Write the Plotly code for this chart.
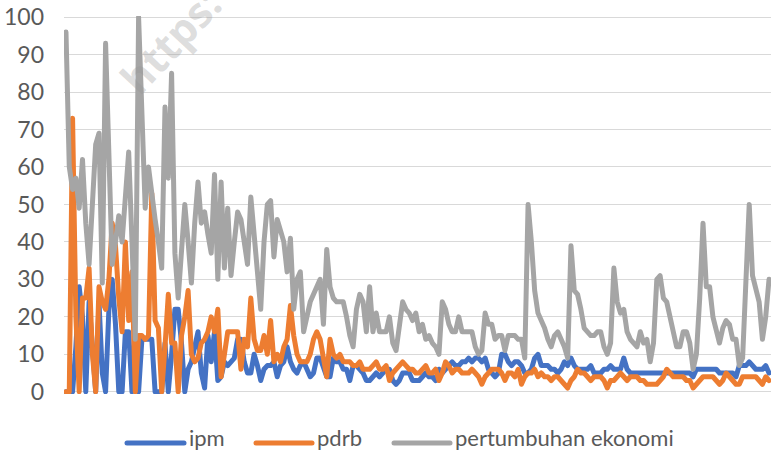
import plotly.graph_objects as go

# ---- data ----
periode = list(range(214))

ipm = [0, 0, 0, 12, 28, 20, 0, 24, 10, 0,
       24, 5, 0, 22, 30, 18, 0, 0, 16, 16,
       0, 14, 0, 14, 14, 14, 14, 0, 0, 0,
       13, 0, 10, 22, 22, 13, 0, 6, 8, 12,
       16, 5, 1, 15, 8, 16, 3, 4, 8, 7,
       8, 9, 14, 14, 8, 5, 5, 10, 7, 3,
       6, 7, 7, 8, 4, 7, 8, 12, 8, 6,
       5, 7, 8, 6, 4, 5, 9, 9, 6, 4,
       4, 9, 8, 8, 6, 6, 3, 7, 7, 6,
       5, 3, 3, 4, 5, 4, 5, 6, 6, 3,
       2, 3, 5, 5, 5, 3, 3, 3, 4, 5,
       4, 4, 3, 6, 5, 6, 7, 8, 7, 7,
       8, 8, 9, 8, 9, 9, 8, 9, 6, 5,
       4, 5, 10, 10, 8, 7, 8, 8, 7, 5,
       5, 6, 9, 10, 7, 7, 7, 6, 6, 5,
       6, 8, 7, 9, 7, 6, 6, 6, 6, 7,
       5, 5, 5, 6, 6, 7, 6, 6, 6, 9,
       6, 5, 5, 5, 5, 5, 5, 5, 5, 5,
       5, 5, 5, 5, 5, 5, 5, 5, 5, 5,
       4, 6, 6, 6, 6, 6, 6, 6, 5, 5,
       5, 5, 5, 4, 7, 7, 7, 8, 7, 6,
       6, 6, 7, 5]

pdrb = [0, 0, 73, 20, 0, 25, 25, 33, 10, 0,
        28, 24, 22, 30, 45, 39, 25, 16, 40, 19,
        32, 0, 15, 15, 14, 15, 53, 19, 17, 0,
        12, 26, 13, 13, 0, 15, 20, 27, 10, 8,
        9, 13, 14, 16, 20, 16, 22, 4, 10, 16,
        16, 16, 16, 6, 14, 12, 25, 14, 11, 11,
        15, 10, 19, 8, 10, 8, 12, 14, 23, 15,
        10, 8, 8, 8, 10, 14, 16, 14, 9, 4,
        14, 10, 9, 10, 8, 8, 8, 7, 7, 8,
        6, 6, 6, 7, 8, 6, 6, 7, 3, 5,
        6, 7, 8, 7, 6, 6, 5, 5, 6, 7,
        5, 5, 6, 3, 5, 8, 7, 5, 6, 6,
        5, 5, 5, 6, 5, 4, 2, 4, 5, 6,
        6, 6, 5, 3, 5, 5, 4, 6, 2, 4,
        5, 5, 6, 4, 5, 4, 4, 3, 4, 4,
        3, 2, 1, 3, 4, 6, 5, 5, 4, 3,
        4, 4, 4, 3, 1, 3, 3, 4, 5, 4,
        3, 4, 4, 4, 3, 3, 2, 2, 2, 2,
        3, 4, 6, 5, 4, 4, 4, 4, 3, 3,
        1, 2, 3, 4, 4, 4, 4, 3, 2, 3,
        5, 4, 3, 2, 2, 4, 4, 4, 4, 4,
        3, 2, 4, 3]

pertumbuhan_ekonomi = [96, 60, 54, 57, 49, 62, 45, 34, 50, 66,
                       69, 29, 93, 60, 34, 40, 47, 40, 52, 64,
                       40, 14, 100, 70, 49, 60, 52, 46, 40, 33,
                       76, 57, 85, 37, 25, 38, 50, 40, 29, 45,
                       56, 45, 48, 42, 37, 58, 30, 56, 33, 49,
                       31, 40, 48, 46, 40, 34, 52, 41, 30, 22,
                       40, 50, 51, 36, 46, 43, 40, 32, 41, 22,
                       30, 32, 16, 20, 24, 26, 28, 30, 18, 38,
                       28, 25, 24, 24, 24, 20, 15, 12, 22, 26,
                       24, 16, 28, 16, 21, 16, 16, 16, 20, 13,
                       11, 18, 24, 22, 21, 19, 21, 16, 18, 14,
                       15, 13, 12, 10, 24, 22, 18, 16, 16, 20,
                       16, 16, 16, 16, 12, 10, 11, 21, 18, 18,
                       14, 15, 15, 11, 15, 15, 15, 14, 14, 9,
                       50, 40, 27, 21, 19, 17, 14, 12, 15, 16,
                       14, 12, 9, 39, 27, 26, 22, 17, 16, 15,
                       15, 16, 16, 12, 10, 13, 33, 24, 21, 22,
                       16, 14, 13, 12, 16, 13, 14, 8, 13, 30,
                       31, 25, 24, 20, 17, 12, 12, 16, 16, 13,
                       6, 10, 25, 45, 28, 28, 20, 16, 13, 17,
                       19, 18, 14, 14, 7, 9, 31, 50, 31, 28,
                       24, 14, 20, 30]

series_names = ["ipm", "pdrb", "pertumbuhan ekonomi"]
series_colors = ["#4472C4", "#ED7D31", "#A5A5A5"]
y_ticks = [0, 10, 20, 30, 40, 50, 60, 70, 80, 90, 100]

assert len(ipm) == len(pdrb) == len(pertumbuhan_ekonomi) == len(periode)

FONT = "Lato"
W, H = 771, 454
L, T, B = 64, 15.6, 60.05   # margins in px
PW = W - L
PH = H - T - B

fig = go.Figure()
for name, vals, col in zip(series_names, [ipm, pdrb, pertumbuhan_ekonomi], series_colors):
    fig.add_trace(go.Scatter(
        x=periode, y=vals, mode="lines", name=name,
        line=dict(color=col, width=5), showlegend=False,
        hoverinfo="skip"))

fig.update_layout(
    width=W, height=H,
    margin=dict(l=L, r=0, t=T, b=B, pad=0),
    paper_bgcolor="white", plot_bgcolor="white",
    font=dict(family=FONT, color="#595959"),
    xaxis=dict(range=[-0.6, 213.6], showticklabels=False, showgrid=False,
               zeroline=False, showline=False, ticks=""),
    yaxis=dict(range=[-0.6, 100.3], tickmode="array", tickvals=y_ticks,
               ticktext=[str(v) for v in y_ticks],
               showgrid=True, gridcolor="#D9D9D9", gridwidth=1.4,
               zeroline=False, showline=False, ticks="",
               tickfont=dict(family=FONT, size=23, color="#595959"),
               ticklabelstandoff=19),
)


def px_x(p):
    return (p - L) / PW


def px_y(p):
    return (H - B - p) / PH


# watermark (partially cut by the top edge, as in the reference)
fig.add_annotation(
    text="<b>https:</b>", xref="paper", yref="paper",
    x=px_x(170), y=px_y(40), xanchor="center", yanchor="middle", showarrow=False,
    textangle=-47, font=dict(family="Open Sans", size=42, color="rgba(150,150,150,0.32)"))

# custom legend (Excel-like long line samples)
leg_y = 443
items = [(127, 184, 187), (256, 312, 315), (394, 450, 453)]
for (x0, x1, tx), name, col in zip(items, series_names, series_colors):
    fig.add_shape(type="line", xref="paper", yref="paper",
                  x0=px_x(x0), x1=px_x(x1), y0=px_y(leg_y), y1=px_y(leg_y),
                  line=dict(color=col, width=5))
    fig.add_annotation(text=name, xref="paper", yref="paper",
                       x=px_x(tx), y=px_y(453), xanchor="left", yanchor="bottom",
                       showarrow=False, font=dict(family=FONT, size=22, color="#595959"))

post = ("document.body.style.margin='0';document.body.style.padding='0';"
        "document.querySelectorAll('.js-line').forEach(function(p){"
        "p.style.strokeLinejoin='round';p.style.strokeLinecap='round';});"
        "document.querySelectorAll('.shapelayer path').forEach(function(p){"
        "p.style.strokeLinecap='round';});")

fig.write_html("out.html", post_script=post, config={"displayModeBar": False})
